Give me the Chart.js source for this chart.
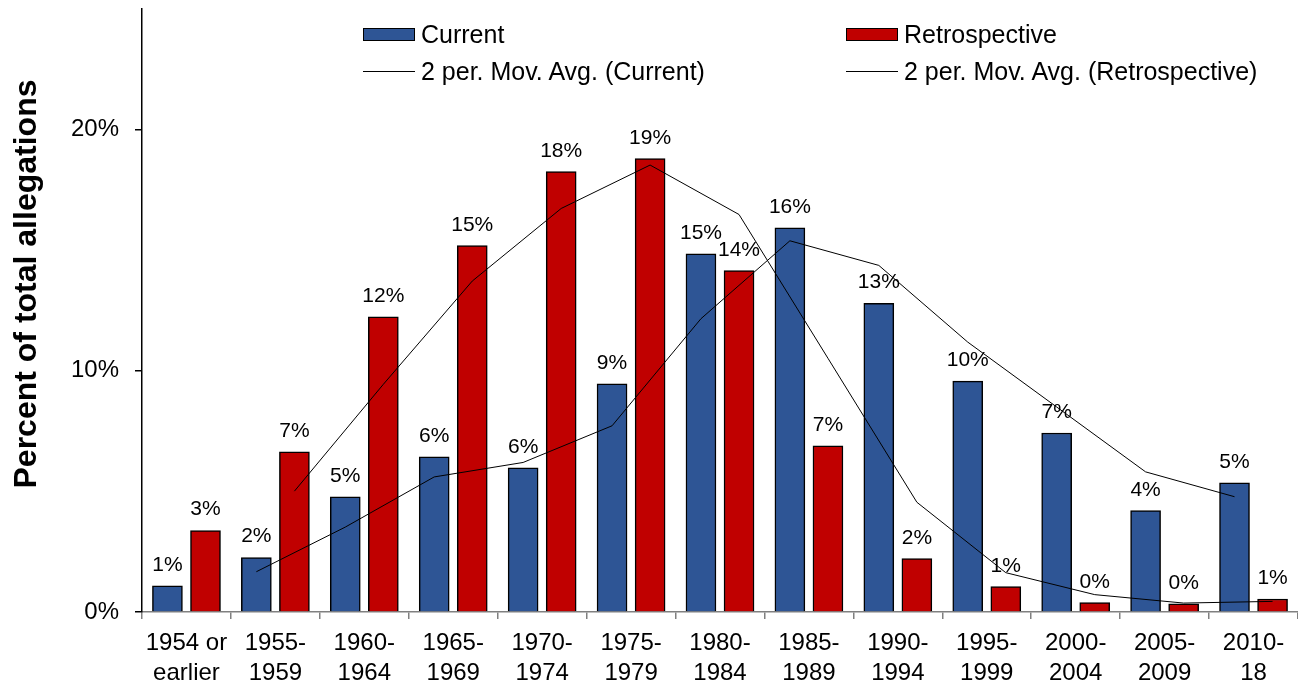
<!DOCTYPE html>
<html>
<head>
<meta charset="utf-8">
<script src="https://cdn.jsdelivr.net/npm/chart.js@4/dist/chart.umd.min.js"></script>
<style>
  body { margin: 0; background: #fff; font-family: "Liberation Sans", Arial, sans-serif; }
  #wrap { position: relative; width: 1298px; height: 684px; }
  .leg { position: absolute; display: flex; align-items: center; height: 24px; font-size: 25px; color: #000; white-space: nowrap; }
  .leg .box { width: 52px; height: 13px; border: 1.5px solid #000; box-sizing: border-box; }
  .leg .ln { width: 52px; height: 1px; background: #000; }
  .leg .txt { margin-left: 6px; }
</style>
</head>
<body>
<div id="wrap">
  <canvas id="allegChart" width="1298" height="684"></canvas>
  <div class="leg" style="left:363px;top:22px"><span class="box" style="background:#2E5595"></span><span class="txt">Current</span></div>
  <div class="leg" style="left:846px;top:22px"><span class="box" style="background:#C00000"></span><span class="txt">Retrospective</span></div>
  <div class="leg" style="left:363px;top:59px"><span class="ln"></span><span class="txt">2 per. Mov. Avg. (Current)</span></div>
  <div class="leg" style="left:846px;top:59px"><span class="ln"></span><span class="txt">2 per. Mov. Avg. (Retrospective)</span></div>
</div>
<script>
const categories = [
  ['1954 or', 'earlier'], ['1955-', '1959'], ['1960-', '1964'], ['1965-', '1969'],
  ['1970-', '1974'], ['1975-', '1979'], ['1980-', '1984'], ['1985-', '1989'],
  ['1990-', '1994'], ['1995-', '1999'], ['2000-', '2004'], ['2005-', '2009'], ['2010-', '18']
];
const current = [1.08, 2.26, 4.78, 6.43, 5.98, 9.46, 14.85, 15.93, 12.8, 9.57, 7.42, 4.2, 5.36];
const retrospective = [3.38, 6.64, 12.24, 15.19, 18.26, 18.8, 14.15, 6.89, 2.21, 1.05, 0.39, 0.34, 0.54];
// 2 period moving averages
const maCurrent = [null, 1.67, 3.52, 5.6, 6.2, 7.72, 12.16, 15.39, 14.37, 11.19, 8.5, 5.81, 4.78];
const maRetro = [null, 5.01, 9.44, 13.72, 16.73, 18.53, 16.48, 10.52, 4.55, 1.63, 0.72, 0.37, 0.44];
const yTicks = [0, 10, 20];
const yTitle = 'Percent of total allegations';

const FONT = '"Liberation Sans", Arial, sans-serif';
const shift = 0.214; // bar centre offset from category centre, in category units

// bars and trend lines sit on a hidden linear axis so both series share the bar centres
function toPoints(arr, off) {
  const pts = [];
  arr.forEach((v, i) => { if (v !== null) pts.push({ x: i + off, y: v }); });
  return pts;
}

// percentage labels above the bars + rotated axis title
const barLabels = {
  id: 'barLabels',
  afterDatasetsDraw(chart) {
    const ctx = chart.ctx;
    const src = [current, retrospective];
    ctx.save();
    ctx.font = '21px ' + FONT;
    ctx.fillStyle = '#000';
    ctx.textAlign = 'center';
    ctx.textBaseline = 'alphabetic';
    chart.data.datasets.forEach((ds, i) => {
      if (ds.type !== 'bar') return;
      const vals = src[ds.seriesIdx];
      chart.getDatasetMeta(i).data.forEach((bar, j) => {
        ctx.fillText(Math.round(vals[j]) + '%', bar.x, bar.y - 15);
      });
    });
    ctx.translate(27, 284);
    ctx.rotate(-Math.PI / 2);
    ctx.font = 'bold 32px ' + FONT;
    ctx.textBaseline = 'middle';
    ctx.fillText(yTitle, 0, 0);
    ctx.restore();
  }
};

const ctx = document.getElementById('allegChart').getContext('2d');
new Chart(ctx, {
  type: 'bar',
  data: {
    labels: categories,
    datasets: [
      {
        type: 'line', label: '2 per. Mov. Avg. (Current)', xAxisID: 'xl',
        data: toPoints(maCurrent, -shift), borderColor: '#000', borderWidth: 1,
        pointRadius: 0, tension: 0, order: 0
      },
      {
        type: 'line', label: '2 per. Mov. Avg. (Retrospective)', xAxisID: 'xl',
        data: toPoints(maRetro, shift), borderColor: '#000', borderWidth: 1,
        pointRadius: 0, tension: 0, order: 0
      },
      {
        type: 'bar', label: 'Current', seriesIdx: 0, xAxisID: 'xl',
        data: toPoints(current, -shift),
        backgroundColor: '#2E5595', borderColor: '#000', borderWidth: 1.5,
        grouped: false, barThickness: 30, categoryPercentage: 1, barPercentage: 1, order: 1
      },
      {
        type: 'bar', label: 'Retrospective', seriesIdx: 1, xAxisID: 'xl',
        data: toPoints(retrospective, shift),
        backgroundColor: '#C00000', borderColor: '#000', borderWidth: 1.5,
        grouped: false, barThickness: 30, categoryPercentage: 1, barPercentage: 1, order: 1
      }
    ]
  },
  options: {
    responsive: false,
    animation: false,
    layout: { padding: { top: 9, right: 0, bottom: 0, left: 0 } },
    plugins: { legend: { display: false }, tooltip: { enabled: false } },
    scales: {
      x: {
        type: 'category',
        offset: true,
        grid: { offset: true, drawOnChartArea: false, tickLength: 7, color: '#808080', lineWidth: 1.5 },
        border: { color: '#808080', width: 1.5 },
        ticks: { color: '#000', padding: 9, maxRotation: 0, autoSkip: false, font: { family: FONT, size: 24, lineHeight: 1.25 } },
        afterFit(s) { s.height = 72; s.paddingLeft = 0; s.paddingRight = 0; }
      },
      xl: { type: 'linear', display: false, offset: false, min: -0.5, max: 12.5 },
      y: {
        min: 0, max: 25,
        grid: { drawOnChartArea: false, tickLength: 7, color: '#000', lineWidth: 1.5 },
        border: { color: '#000', width: 1.5 },
        ticks: { color: '#000', padding: 16, font: { family: FONT, size: 24 }, callback: v => v + '%' },
        afterBuildTicks(s) { s.ticks = yTicks.map(v => ({ value: v })); },
        afterFit(s) { s.width = 142; s.paddingTop = 0; s.paddingBottom = 0; }
      }
    }
  },
  plugins: [barLabels]
});
</script>
</body>
</html>
